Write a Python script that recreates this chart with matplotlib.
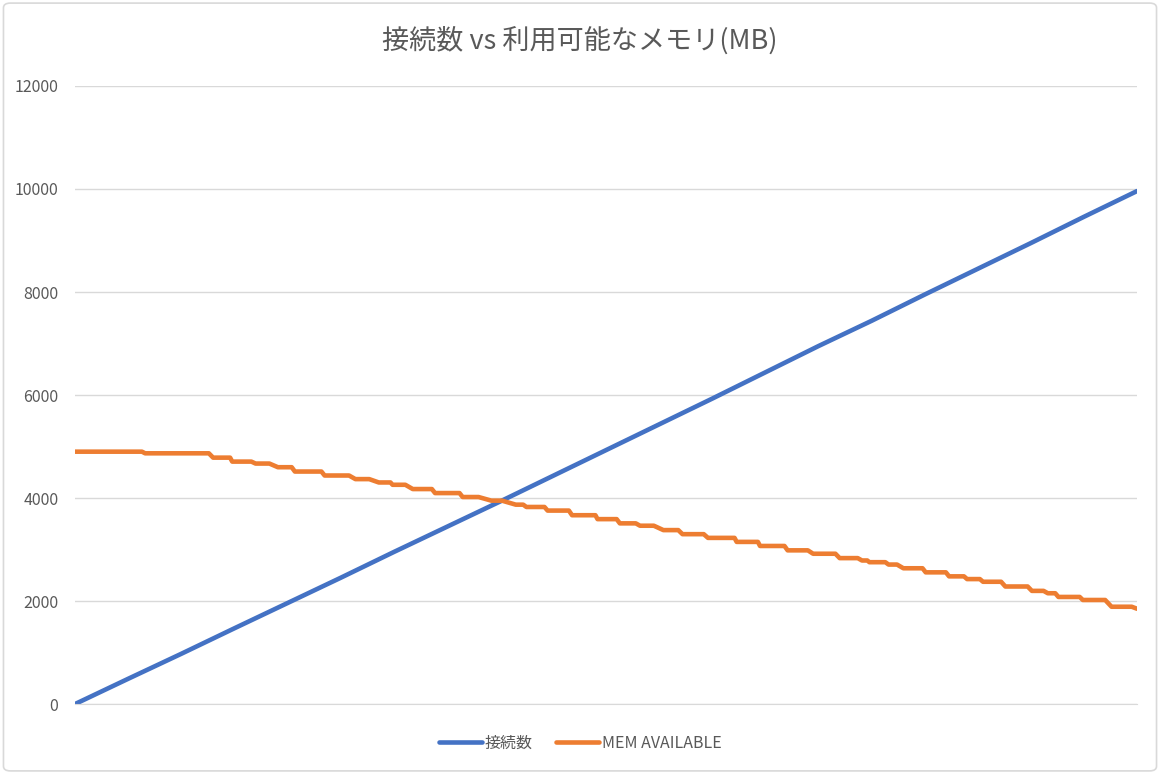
import matplotlib
matplotlib.use("Agg")
import matplotlib.pyplot as plt
from matplotlib.patches import FancyBboxPatch

plt.rcParams['font.family'] = ['Noto Sans CJK JP', 'DejaVu Sans']

# x は時間軸（目盛りなし、0〜1000 の相対位置）
conn_x = [0, 50, 100, 150, 200, 250, 300, 350, 400, 450, 500,
          550, 600, 650, 700, 750, 800, 850, 900, 950, 1000]
conn_y = [0, 490, 975, 1470, 1960, 2450, 2950, 3440, 3930, 4430, 4930,
          5430, 5930, 6440, 6950, 7440, 7950, 8450, 8950, 9460, 9960]

# MEM AVAILABLE は階段状に減少（各段の始点と終点）
mem_x = [0, 63, 66, 126, 130, 146, 148, 166, 170, 183, 191, 204,
         207, 232, 235, 258, 264, 277, 286, 297, 299, 311, 318, 336,
         339, 362, 365, 380, 392, 402, 415, 422, 425, 442, 445, 465,
         468, 490, 492, 510, 513, 528, 532, 545, 554, 568, 572, 592,
         596, 621, 623, 643, 645, 668, 671, 690, 695, 716, 720, 737,
         741, 746, 748, 763, 766, 774, 780, 798, 801, 820, 823, 837,
         840, 852, 855, 872, 876, 897, 901, 912, 916, 923, 926, 946,
         949, 970, 976, 995, 1000]
mem_y = [4900, 4900, 4868, 4868, 4784, 4784, 4707, 4707, 4669, 4669, 4598, 4598,
         4514, 4514, 4437, 4437, 4367, 4367, 4302, 4302, 4257, 4257, 4174, 4174,
         4096, 4096, 4019, 4019, 3949, 3949, 3871, 3871, 3826, 3826, 3756, 3756,
         3666, 3666, 3590, 3590, 3508, 3508, 3462, 3462, 3377, 3377, 3298, 3298,
         3226, 3226, 3148, 3148, 3069, 3069, 2984, 2984, 2918, 2918, 2833, 2833,
         2787, 2787, 2754, 2754, 2708, 2708, 2636, 2636, 2557, 2557, 2479, 2479,
         2426, 2426, 2374, 2374, 2282, 2282, 2197, 2197, 2151, 2151, 2079, 2079,
         2020, 2020, 1889, 1889, 1850]

yticks = [0, 2000, 4000, 6000, 8000, 10000, 12000]

fig = plt.figure(figsize=(11.6, 7.74), dpi=100)
fig.patch.set_facecolor('white')

# 外枠
border = FancyBboxPatch((0.003, 0.004), 0.994, 0.992,
                        boxstyle="round,pad=0,rounding_size=0.006",
                        transform=fig.transFigure, fill=False,
                        edgecolor='#D9D9D9', linewidth=1.2)
fig.patches.append(border)

ax = fig.add_axes([0.0647, 0.0904, 0.9155, 0.7985])
ax.plot(conn_x, conn_y, color='#4472C4', linewidth=3.3,
        solid_capstyle='round', label='接続数')
ax.plot(mem_x, mem_y, color='#ED7D31', linewidth=3.3,
        solid_capstyle='round', label='MEM AVAILABLE')

ax.set_xlim(0, 1000)
ax.set_ylim(0, 12000)
ax.set_yticks(yticks)
ax.set_yticklabels([str(v) for v in yticks])
ax.set_xticks([])
ax.grid(axis='y', color='#D9D9D9', linewidth=1.0)
ax.set_axisbelow(True)
for s in ['top', 'right', 'left']:
    ax.spines[s].set_visible(False)
ax.spines['bottom'].set_color('#D9D9D9')
ax.tick_params(axis='y', length=0, pad=12, labelsize=11.5, labelcolor='#595959')

fig.text(0.5, 0.948, '接続数 vs 利用可能なメモリ(MB)', ha='center', va='center',
         fontsize=19.5, color='#595959')

fig.legend(loc='center', bbox_to_anchor=(0.5, 0.04), ncol=2, frameon=False,
           fontsize=11.5, labelcolor='#595959', handlelength=2.7,
           columnspacing=1.5, handletextpad=0.15)

fig.savefig('out.png', dpi=100, facecolor='white')
